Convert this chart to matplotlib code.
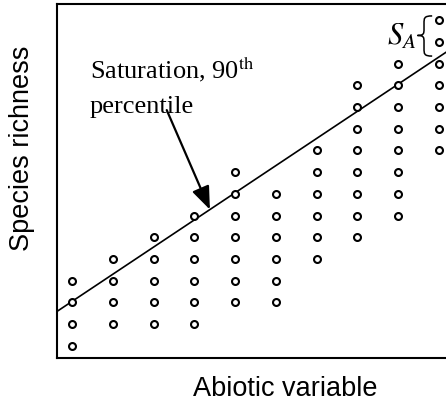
import matplotlib
matplotlib.use("Agg")
import matplotlib.pyplot as plt
from matplotlib.path import Path
from matplotlib.patches import PathPatch

# abiotic variable classes (x) and the richness range seen in each
columns = [1, 2, 3, 4, 5, 6, 7, 8, 9, 10]
richness_min = [1, 2, 2, 2, 3, 3, 5, 6, 7, 10]
richness_max = [4, 5, 6, 7, 9, 8, 10, 13, 14, 16]

# 90th percentile line (richness = a + b * x)
line_intercept = 1.8
line_slope = 1.25

xs, ys = [], []
for c, lo, hi in zip(columns, richness_min, richness_max):
    for s in range(lo, hi + 1):
        xs.append(c)
        ys.append(s)

fig = plt.figure(figsize=(4.46, 4.05), dpi=100)
ax = fig.add_axes([57 / 446, 47 / 405, 1 - 57 / 446, 354 / 405])
ax.set_xlim(0.624, 10.18)
ax.set_ylim(0.433, 16.75)

ax.plot(xs, ys, 'o', ms=5, mfc='white', mec='black', mew=1.5, ls='none', zorder=3)

lx = [0.624, 10.18]
ax.plot(lx, [line_intercept + line_slope * x for x in lx], color='black', lw=1.2, zorder=2)

for side in ['left', 'bottom', 'top']:
    ax.spines[side].set_linewidth(1.5)
ax.spines['right'].set_visible(False)
ax.set_xticks([])
ax.set_yticks([])

# annotation for the percentile line
ax.annotate('', xy=(4.38, line_intercept + line_slope * 4.38), xytext=(3.32, 11.86),
            arrowprops=dict(arrowstyle='-|>,head_length=1.4,head_width=0.55',
                            color='black', lw=1.6, shrinkA=0, shrinkB=0))
ax.text(1.435, 13.34, 'Saturation, 90$^{\\mathrm{th}}$', family='Liberation Serif',
        fontsize=19, va='baseline', ha='left', math_fontfamily='stix')
ax.text(1.435, 11.72, 'percentile', family='Liberation Serif', fontsize=19,
        va='baseline', ha='left')

# S_A with curly brace
ax.text(9.45, 15.25, '$S_A$', fontsize=22, math_fontfamily='stix', ha='right', va='center')
xr, xc, xl = 9.84, 9.64, 9.48
yt, ym, yb = 16.2, 15.3, 14.35
verts = [(xr, yt),
         (xc, yt), (xc, yt - 0.1), (xc, yt - 0.35),
         (xc, ym + 0.3),
         (xc, ym + 0.1), (xc, ym), (xl, ym),
         (xc, ym), (xc, ym - 0.1), (xc, ym - 0.3),
         (xc, yb + 0.35),
         (xc, yb + 0.1), (xc, yb), (xr, yb)]
codes = [Path.MOVETO,
         Path.CURVE4, Path.CURVE4, Path.CURVE4,
         Path.LINETO,
         Path.CURVE4, Path.CURVE4, Path.CURVE4,
         Path.CURVE4, Path.CURVE4, Path.CURVE4,
         Path.LINETO,
         Path.CURVE4, Path.CURVE4, Path.CURVE4]
ax.add_patch(PathPatch(Path(verts, codes), fill=False, lw=1.1, color='black'))

fig.text(22 / 446, 1 - 148 / 405, 'Species richness', family='Liberation Sans',
         fontsize=19.5, rotation=90, ha='center', va='center')
fig.text(285 / 446, 1 - 389 / 405, 'Abiotic variable', family='Liberation Sans',
         fontsize=19.5, ha='center', va='center')

fig.savefig('out.png', dpi=100)
